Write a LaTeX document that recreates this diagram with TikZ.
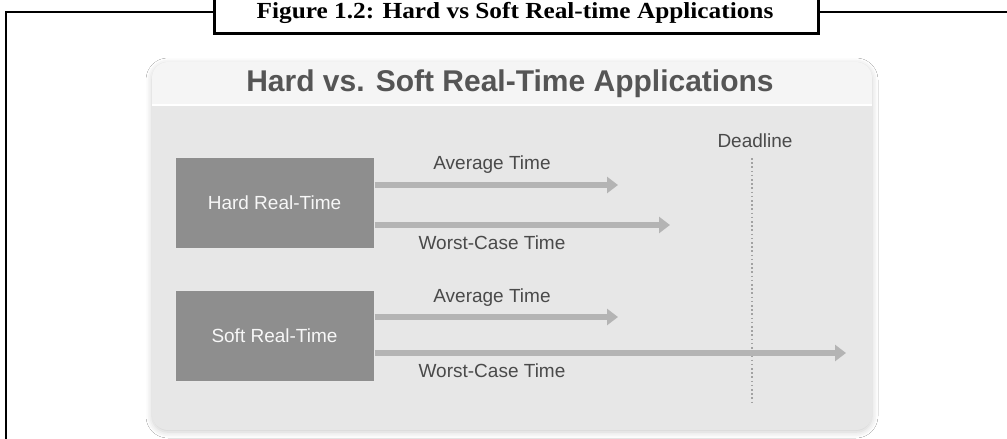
\documentclass[tikz,border=0pt]{standalone}
\usepackage{fontspec}
\setmainfont{Liberation Serif}
\setsansfont{Liberation Sans}
\usetikzlibrary{arrows.meta,shadows.blur}
\definecolor{panelbody}{HTML}{E7E7E7}
\definecolor{panelhead}{HTML}{F5F5F5}
\definecolor{boxfill}{HTML}{8E8E8E}
\definecolor{arrowgray}{HTML}{B4B4B4}
\definecolor{textgray}{HTML}{4A4A4A}
\definecolor{headgray}{HTML}{555555}
\tikzset{
  frame/.style={line width=2.8pt, black},
  rtbox/.style={draw=white!82!gray, line width=1pt, fill=boxfill, minimum width=199pt, minimum height=91pt, inner sep=0pt,
     text=white!94!gray, font=\sffamily\fontsize{19}{22}\selectfont},
  lbl/.style={text=textgray, font=\sffamily\fontsize{19}{22}\selectfont, inner sep=0pt},
  tarrow/.style={draw=arrowgray, line width=6pt, -{Triangle[length=11pt,width=16pt]}},
}
\begin{document}
\begin{tikzpicture}[x=1pt,y=-1pt]
\useasboundingbox (0,0) rectangle (1007,439);
\fill[white] (0,0) rectangle (1007,439);
% outer frame
\node[draw, frame, fill=white, minimum width=604pt, minimum height=42pt, inner sep=0pt, anchor=south west] (figbox) at (213,35) {};
\node (figtitle) at (515,13) {\scalebox{1.1}[1]{\bfseries\fontsize{23}{26}\selectfont Figure 1.2: Hard vs Soft Real-time Applications}};
\coordinate (fl) at (6,12);
\coordinate (flb) at (6,445);
\coordinate (fr) at (1010,12);
\draw[frame] (flb) -- (fl) -- (figbox.west |- fl);
\draw[frame] (figbox.east |- fr) -- (fr);
% panel
\path[blur shadow={shadow xshift=0pt, shadow yshift=-2pt, shadow blur radius=6pt, shadow opacity=20}, fill=panelbody, rounded corners=16pt] (152,62) rectangle (872,430);
\begin{scope}
\clip[rounded corners=16pt] (152,62) rectangle (872,430);
\fill[panelhead] (152,62) rectangle (872,105);
\draw[white, line width=2pt] (152,105) -- (872,105);
\end{scope}
\node[text=headgray, font=\sffamily\bfseries\fontsize{30}{33}\selectfont, inner sep=0pt] (head) at (510,84) {Hard vs. Soft Real-Time Applications};
% boxes
\node[rtbox] (hard) at (274.5,202.5) {Hard Real-Time};
\node[rtbox] (soft) at (274.5,335.5) {Soft Real-Time};
% deadline
\node[lbl] (dead) at (755,141) {Deadline};
\coordinate (dtop) at (752,158);
\coordinate (dbot) at (752,402);
\draw[arrowgray!90!black, line width=1.6pt, dash pattern=on 1.6pt off 2.6pt] (dtop) -- (dbot);
% arrows
\coordinate (ha) at (618,185);
\coordinate (hw) at (670,225);
\coordinate (sa) at (618,317);
\coordinate (sw) at (846,353);
\draw[tarrow] (hard.east |- ha) -- (ha);
\draw[tarrow] (hard.east |- hw) -- (hw);
\draw[tarrow] (soft.east |- sa) -- (sa);
\draw[tarrow] (soft.east |- sw) -- (sw);
% labels
\node[lbl] (hal) at (492,165) {Average Time};
\node[lbl] (hwl) at (492,243) {Worst-Case Time};
\node[lbl] (sal) at (492,298) {Average Time};
\node[lbl] (swl) at (492,371) {Worst-Case Time};
\end{tikzpicture}
\end{document}
